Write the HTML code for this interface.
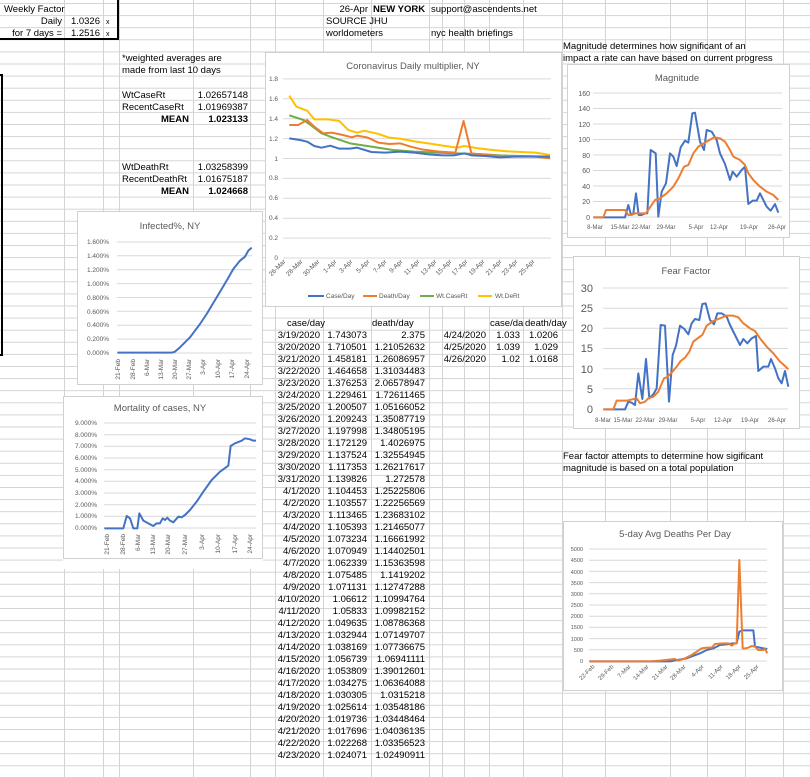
<!DOCTYPE html>
<html><head><meta charset="utf-8"><style>
body{margin:0;background:#fff}
svg{display:block;font-family:"Liberation Sans",sans-serif}
.c{font-size:9.5px;fill:#000}
.b{font-weight:bold}
.ax{font-size:6.5px;fill:#595959}
.ttl{font-size:9.5px;fill:#595959}
.g{stroke:#d9d9d9;stroke-width:1}
.s{fill:none;stroke-width:2;vector-effect:non-scaling-stroke;stroke-linejoin:round}
.bl{stroke:#4472c4}.or{stroke:#ed7d31}.gr{stroke:#70ad47}.ye{stroke:#ffc000}
.box{fill:#fff;stroke:#d0d0d0}
</style></head><body>
<svg width="810" height="777" viewBox="0 0 810 777">
<defs><pattern id="rows" x="0" y="3" width="810" height="12.1" patternUnits="userSpaceOnUse"><line x1="0" y1="0.5" x2="810" y2="0.5" stroke="#d4d4d4"/></pattern></defs>
<rect width="810" height="777" fill="url(#rows)"/>
<g stroke="#d4d4d4">
<line x1="64.5" y1="0" x2="64.5" y2="777"/><line x1="103.5" y1="0" x2="103.5" y2="777"/><line x1="119.5" y1="0" x2="119.5" y2="777"/><line x1="193.5" y1="0" x2="193.5" y2="777"/><line x1="250.5" y1="0" x2="250.5" y2="777"/><line x1="275.5" y1="0" x2="275.5" y2="777"/><line x1="323.5" y1="0" x2="323.5" y2="777"/><line x1="371.5" y1="0" x2="371.5" y2="777"/><line x1="429.5" y1="0" x2="429.5" y2="777"/><line x1="442.5" y1="0" x2="442.5" y2="777"/><line x1="464.5" y1="0" x2="464.5" y2="777"/><line x1="489.5" y1="0" x2="489.5" y2="777"/><line x1="523.5" y1="0" x2="523.5" y2="777"/><line x1="562.5" y1="0" x2="562.5" y2="777"/><line x1="605.5" y1="0" x2="605.5" y2="777"/><line x1="670.5" y1="0" x2="670.5" y2="777"/><line x1="707.5" y1="0" x2="707.5" y2="777"/><line x1="745.5" y1="0" x2="745.5" y2="777"/><line x1="783.5" y1="0" x2="783.5" y2="777"/>
</g>
<!-- thick borders -->
<g stroke="#000" stroke-width="2" fill="none">
<polyline points="0,39 118,39 118,0"/>
<polyline points="0,75 2,75 2,355 0,355"/>
</g>
<!-- top texts -->
<text class="c" x="4" y="12">Weekly Factor</text>
<text class="c" x="62" y="24" text-anchor="end">Daily</text>
<text class="c" x="100" y="24" text-anchor="end">1.0326</text><text class="c" x="106" y="24" style="font-size:7px">x</text>
<text class="c" x="62" y="36" text-anchor="end">for 7 days =</text>
<text class="c" x="100" y="36" text-anchor="end">1.2516</text><text class="c" x="106" y="36" style="font-size:7px">x</text>
<text class="c" x="368" y="12" text-anchor="end">26-Apr</text>
<text class="c b" x="373" y="12">NEW YORK</text>
<text class="c" x="431" y="12">support@ascendents.net</text>
<text class="c" x="326" y="24">SOURCE JHU</text>
<text class="c" x="326" y="36">worldometers</text>
<text class="c" x="431" y="36">nyc health briefings</text>
<text class="c" x="122" y="61">*weighted averages are</text>
<text class="c" x="122" y="73">made from last 10 days</text>
<text class="c" x="122" y="98">WtCaseRt</text><text class="c" x="248" y="98" text-anchor="end">1.02657148</text>
<text class="c" x="122" y="110">RecentCaseRt</text><text class="c" x="248" y="110" text-anchor="end">1.01969387</text>
<text class="c b" x="189" y="122" text-anchor="end">MEAN</text><text class="c b" x="248" y="122" text-anchor="end">1.023133</text>
<text class="c" x="122" y="170">WtDeathRt</text><text class="c" x="248" y="170" text-anchor="end">1.03258399</text>
<text class="c" x="122" y="182">RecentDeathRt</text><text class="c" x="248" y="182" text-anchor="end">1.01675187</text>
<text class="c b" x="189" y="194" text-anchor="end">MEAN</text><text class="c b" x="248" y="194" text-anchor="end">1.024668</text>
<text class="c" x="563" y="49">Magnitude determines how significant of an</text>
<text class="c" x="563" y="61">impact a rate can have based on current progress</text>
<text class="c" x="563" y="459">Fear factor attempts to determine how sigificant</text>
<text class="c" x="563" y="471">magnitude is based on a total population</text>

<!-- table -->
<rect x="276" y="317" width="286" height="12" fill="#fff" opacity="0"/>
<text class="c" x="287" y="326">case/day</text><text class="c" x="372" y="326">death/day</text>
<text class="c" x="490" y="326">case/da</text><text class="c" x="525" y="326">death/day</text>
<g class="c">
<text x="320" y="338" text-anchor="end">3/19/2020</text><text x="367" y="338" text-anchor="end">1.743073</text><text x="425" y="338" text-anchor="end">2.375</text>
<text x="320" y="350" text-anchor="end">3/20/2020</text><text x="367" y="350" text-anchor="end">1.710501</text><text x="425" y="350" text-anchor="end">1.21052632</text>
<text x="320" y="362" text-anchor="end">3/21/2020</text><text x="367" y="362" text-anchor="end">1.458181</text><text x="425" y="362" text-anchor="end">1.26086957</text>
<text x="320" y="374" text-anchor="end">3/22/2020</text><text x="367" y="374" text-anchor="end">1.464658</text><text x="425" y="374" text-anchor="end">1.31034483</text>
<text x="320" y="386" text-anchor="end">3/23/2020</text><text x="367" y="386" text-anchor="end">1.376253</text><text x="425" y="386" text-anchor="end">2.06578947</text>
<text x="320" y="398" text-anchor="end">3/24/2020</text><text x="367" y="398" text-anchor="end">1.229461</text><text x="425" y="398" text-anchor="end">1.72611465</text>
<text x="320" y="410" text-anchor="end">3/25/2020</text><text x="367" y="410" text-anchor="end">1.200507</text><text x="425" y="410" text-anchor="end">1.05166052</text>
<text x="320" y="422" text-anchor="end">3/26/2020</text><text x="367" y="422" text-anchor="end">1.209243</text><text x="425" y="422" text-anchor="end">1.35087719</text>
<text x="320" y="434" text-anchor="end">3/27/2020</text><text x="367" y="434" text-anchor="end">1.197998</text><text x="425" y="434" text-anchor="end">1.34805195</text>
<text x="320" y="446" text-anchor="end">3/28/2020</text><text x="367" y="446" text-anchor="end">1.172129</text><text x="425" y="446" text-anchor="end">1.4026975</text>
<text x="320" y="458" text-anchor="end">3/29/2020</text><text x="367" y="458" text-anchor="end">1.137524</text><text x="425" y="458" text-anchor="end">1.32554945</text>
<text x="320" y="470" text-anchor="end">3/30/2020</text><text x="367" y="470" text-anchor="end">1.117353</text><text x="425" y="470" text-anchor="end">1.26217617</text>
<text x="320" y="482" text-anchor="end">3/31/2020</text><text x="367" y="482" text-anchor="end">1.139826</text><text x="425" y="482" text-anchor="end">1.272578</text>
<text x="320" y="494" text-anchor="end">4/1/2020</text><text x="367" y="494" text-anchor="end">1.104453</text><text x="425" y="494" text-anchor="end">1.25225806</text>
<text x="320" y="506" text-anchor="end">4/2/2020</text><text x="367" y="506" text-anchor="end">1.103557</text><text x="425" y="506" text-anchor="end">1.22256569</text>
<text x="320" y="518" text-anchor="end">4/3/2020</text><text x="367" y="518" text-anchor="end">1.113465</text><text x="425" y="518" text-anchor="end">1.23683102</text>
<text x="320" y="530" text-anchor="end">4/4/2020</text><text x="367" y="530" text-anchor="end">1.105393</text><text x="425" y="530" text-anchor="end">1.21465077</text>
<text x="320" y="542" text-anchor="end">4/5/2020</text><text x="367" y="542" text-anchor="end">1.073234</text><text x="425" y="542" text-anchor="end">1.16661992</text>
<text x="320" y="554" text-anchor="end">4/6/2020</text><text x="367" y="554" text-anchor="end">1.070949</text><text x="425" y="554" text-anchor="end">1.14402501</text>
<text x="320" y="566" text-anchor="end">4/7/2020</text><text x="367" y="566" text-anchor="end">1.062339</text><text x="425" y="566" text-anchor="end">1.15363598</text>
<text x="320" y="578" text-anchor="end">4/8/2020</text><text x="367" y="578" text-anchor="end">1.075485</text><text x="425" y="578" text-anchor="end">1.1419202</text>
<text x="320" y="590" text-anchor="end">4/9/2020</text><text x="367" y="590" text-anchor="end">1.071131</text><text x="425" y="590" text-anchor="end">1.12747288</text>
<text x="320" y="602" text-anchor="end">4/10/2020</text><text x="367" y="602" text-anchor="end">1.06612</text><text x="425" y="602" text-anchor="end">1.10994764</text>
<text x="320" y="614" text-anchor="end">4/11/2020</text><text x="367" y="614" text-anchor="end">1.05833</text><text x="425" y="614" text-anchor="end">1.09982152</text>
<text x="320" y="626" text-anchor="end">4/12/2020</text><text x="367" y="626" text-anchor="end">1.049635</text><text x="425" y="626" text-anchor="end">1.08786368</text>
<text x="320" y="638" text-anchor="end">4/13/2020</text><text x="367" y="638" text-anchor="end">1.032944</text><text x="425" y="638" text-anchor="end">1.07149707</text>
<text x="320" y="650" text-anchor="end">4/14/2020</text><text x="367" y="650" text-anchor="end">1.038169</text><text x="425" y="650" text-anchor="end">1.07736675</text>
<text x="320" y="662" text-anchor="end">4/15/2020</text><text x="367" y="662" text-anchor="end">1.056739</text><text x="425" y="662" text-anchor="end">1.06941111</text>
<text x="320" y="674" text-anchor="end">4/16/2020</text><text x="367" y="674" text-anchor="end">1.053809</text><text x="425" y="674" text-anchor="end">1.39012601</text>
<text x="320" y="686" text-anchor="end">4/17/2020</text><text x="367" y="686" text-anchor="end">1.034275</text><text x="425" y="686" text-anchor="end">1.06364088</text>
<text x="320" y="698" text-anchor="end">4/18/2020</text><text x="367" y="698" text-anchor="end">1.030305</text><text x="425" y="698" text-anchor="end">1.0315218</text>
<text x="320" y="710" text-anchor="end">4/19/2020</text><text x="367" y="710" text-anchor="end">1.025614</text><text x="425" y="710" text-anchor="end">1.03548186</text>
<text x="320" y="722" text-anchor="end">4/20/2020</text><text x="367" y="722" text-anchor="end">1.019736</text><text x="425" y="722" text-anchor="end">1.03448464</text>
<text x="320" y="734" text-anchor="end">4/21/2020</text><text x="367" y="734" text-anchor="end">1.017696</text><text x="425" y="734" text-anchor="end">1.04036135</text>
<text x="320" y="746" text-anchor="end">4/22/2020</text><text x="367" y="746" text-anchor="end">1.022268</text><text x="425" y="746" text-anchor="end">1.03356523</text>
<text x="320" y="758" text-anchor="end">4/23/2020</text><text x="367" y="758" text-anchor="end">1.024071</text><text x="425" y="758" text-anchor="end">1.02490911</text>
<text x="486" y="338" text-anchor="end">4/24/2020</text><text x="520" y="338" text-anchor="end">1.033</text><text x="558" y="338" text-anchor="end">1.0206</text>
<text x="486" y="350" text-anchor="end">4/25/2020</text><text x="520" y="350" text-anchor="end">1.039</text><text x="558" y="350" text-anchor="end">1.029</text>
<text x="486" y="362" text-anchor="end">4/26/2020</text><text x="520" y="362" text-anchor="end">1.02</text><text x="558" y="362" text-anchor="end">1.0168</text>
</g>

<!-- Daily multiplier chart -->
<rect class="box" x="265.5" y="52.5" width="296" height="254"/>
<text class="ttl" x="413" y="69" text-anchor="middle">Coronavirus Daily multiplier, NY</text>
<g class="g">
<line x1="283" y1="258" x2="551" y2="258"/><line x1="283" y1="238.1" x2="551" y2="238.1"/><line x1="283" y1="218.2" x2="551" y2="218.2"/><line x1="283" y1="198.3" x2="551" y2="198.3"/><line x1="283" y1="178.4" x2="551" y2="178.4"/><line x1="283" y1="158.5" x2="551" y2="158.5"/><line x1="283" y1="138.6" x2="551" y2="138.6"/><line x1="283" y1="118.7" x2="551" y2="118.7"/><line x1="283" y1="98.8" x2="551" y2="98.8"/><line x1="283" y1="78.9" x2="551" y2="78.9"/>
</g>
<g class="ax" text-anchor="end">
<text x="278" y="260">0</text><text x="278" y="240">0.2</text><text x="278" y="220">0.4</text><text x="278" y="200">0.6</text><text x="278" y="180">0.8</text><text x="278" y="161">1</text><text x="278" y="141">1.2</text><text x="278" y="121">1.4</text><text x="278" y="101">1.6</text><text x="278" y="81">1.8</text>
</g>
<g class="ax" text-anchor="end">
<text transform="translate(286,262) rotate(-45)">26-Mar</text><text transform="translate(303,262) rotate(-45)">28-Mar</text><text transform="translate(320,262) rotate(-45)">30-Mar</text><text transform="translate(337,262) rotate(-45)">1-Apr</text><text transform="translate(353,262) rotate(-45)">3-Apr</text><text transform="translate(370,262) rotate(-45)">5-Apr</text><text transform="translate(387,262) rotate(-45)">7-Apr</text><text transform="translate(403,262) rotate(-45)">9-Apr</text><text transform="translate(420,262) rotate(-45)">11-Apr</text><text transform="translate(437,262) rotate(-45)">13-Apr</text><text transform="translate(452,262) rotate(-45)">15-Apr</text><text transform="translate(468,262) rotate(-45)">17-Apr</text><text transform="translate(485,262) rotate(-45)">19-Apr</text><text transform="translate(502,262) rotate(-45)">21-Apr</text><text transform="translate(518,262) rotate(-45)">23-Apr</text><text transform="translate(535,262) rotate(-45)">25-Apr</text>
</g>
<g class="ax">
<line x1="308" y1="296" x2="324" y2="296" stroke="#4472c4" stroke-width="2"/><text x="326" y="298">Case/Day</text>
<line x1="363" y1="296" x2="377" y2="296" stroke="#ed7d31" stroke-width="2"/><text x="379" y="298">Death/Day</text>
<line x1="420" y1="296" x2="434" y2="296" stroke="#70ad47" stroke-width="2"/><text x="436" y="298">Wt.CaseRt</text>
<line x1="478" y1="296" x2="492" y2="296" stroke="#ffc000" stroke-width="2"/><text x="495" y="298">Wt.DeRt</text>
</g>
<g transform="scale(0.35714,0.33333)">
<polyline class="s ye" points="810,287 830,320 860,332 880,358 920,358 950,363 975,390 1000,398 1020,392 1060,402 1090,413 1120,416 1160,424 1200,430 1240,437 1280,443 1300,438 1340,445 1380,450 1420,454 1460,456 1500,458 1540,465"/>
<polyline class="s gr" points="810,346 850,360 870,375 900,400 930,412 980,430 1040,440 1100,450 1160,455 1220,458 1280,460 1340,462 1400,466 1460,468 1540,470"/>
<polyline class="s or" points="810,375 835,375 860,360 880,380 905,400 930,398 960,405 985,412 1000,407 1030,413 1060,428 1090,432 1120,430 1150,440 1180,448 1230,455 1275,458 1298,363 1320,460 1360,465 1400,468 1440,468 1500,470 1540,475"/>
<polyline class="s bl" points="810,415 840,420 860,425 880,438 900,443 925,437 950,446 980,446 1000,443 1040,456 1080,458 1120,455 1160,458 1200,463 1240,466 1270,466 1300,460 1320,466 1360,468 1400,472 1440,470 1480,470 1540,470"/>
</g>

<!-- Infected chart -->
<rect class="box" x="77.5" y="211.5" width="185" height="173"/>
<text class="ttl" x="170" y="229" text-anchor="middle">Infected%, NY</text>
<g class="g">
<line x1="117" y1="353" x2="252" y2="353"/><line x1="117" y1="339.1" x2="252" y2="339.1"/><line x1="117" y1="325.2" x2="252" y2="325.2"/><line x1="117" y1="311.3" x2="252" y2="311.3"/><line x1="117" y1="297.5" x2="252" y2="297.5"/><line x1="117" y1="283.6" x2="252" y2="283.6"/><line x1="117" y1="269.7" x2="252" y2="269.7"/><line x1="117" y1="255.8" x2="252" y2="255.8"/><line x1="117" y1="242" x2="252" y2="242"/>
</g>
<g class="ax" text-anchor="end">
<text x="109" y="355">0.000%</text><text x="109" y="341">0.200%</text><text x="109" y="327">0.400%</text><text x="109" y="314">0.600%</text><text x="109" y="300">0.800%</text><text x="109" y="286">1.000%</text><text x="109" y="272">1.200%</text><text x="109" y="258">1.400%</text><text x="109" y="244">1.600%</text>
</g>
<g class="ax" text-anchor="end">
<text transform="translate(120,359) rotate(-90)">21-Feb</text><text transform="translate(135,359) rotate(-90)">28-Feb</text><text transform="translate(149,359) rotate(-90)">6-Mar</text><text transform="translate(163,359) rotate(-90)">13-Mar</text><text transform="translate(177,359) rotate(-90)">20-Mar</text><text transform="translate(191,359) rotate(-90)">27-Mar</text><text transform="translate(205,359) rotate(-90)">3-Apr</text><text transform="translate(220,359) rotate(-90)">10-Apr</text><text transform="translate(234,359) rotate(-90)">17-Apr</text><text transform="translate(249,359) rotate(-90)">24-Apr</text>
</g>
<g transform="translate(60,200) scale(0.33333)">
<polyline class="s bl" points="172,458 335,458 345,455 360,442 390,412 420,372 440,342 470,292 500,242 520,207 540,182 555,170 565,152 575,143"/>
</g>

<!-- Mortality chart -->
<rect class="box" x="63.5" y="396.5" width="199" height="162"/>
<text class="ttl" x="160" y="411" text-anchor="middle">Mortality of cases, NY</text>
<g class="g">
<line x1="104" y1="528" x2="256" y2="528"/><line x1="104" y1="516.3" x2="256" y2="516.3"/><line x1="104" y1="504.7" x2="256" y2="504.7"/><line x1="104" y1="493" x2="256" y2="493"/><line x1="104" y1="481.3" x2="256" y2="481.3"/><line x1="104" y1="469.7" x2="256" y2="469.7"/><line x1="104" y1="458" x2="256" y2="458"/><line x1="104" y1="446.3" x2="256" y2="446.3"/><line x1="104" y1="434.7" x2="256" y2="434.7"/><line x1="104" y1="423" x2="256" y2="423"/>
</g>
<g class="ax" text-anchor="end">
<text x="97" y="530">0.000%</text><text x="97" y="518">1.000%</text><text x="97" y="507">2.000%</text><text x="97" y="495">3.000%</text><text x="97" y="483">4.000%</text><text x="97" y="472">5.000%</text><text x="97" y="460">6.000%</text><text x="97" y="448">7.000%</text><text x="97" y="437">8.000%</text><text x="97" y="425">9.000%</text>
</g>
<g class="ax" text-anchor="end">
<text transform="translate(109,534) rotate(-90)">21-Feb</text><text transform="translate(125,534) rotate(-90)">28-Feb</text><text transform="translate(140,534) rotate(-90)">6-Mar</text><text transform="translate(155,534) rotate(-90)">13-Mar</text><text transform="translate(170,534) rotate(-90)">20-Mar</text><text transform="translate(187,534) rotate(-90)">27-Mar</text><text transform="translate(204,534) rotate(-90)">3-Apr</text><text transform="translate(220,534) rotate(-90)">10-Apr</text><text transform="translate(237,534) rotate(-90)">17-Apr</text><text transform="translate(252,534) rotate(-90)">24-Apr</text>
</g>
<rect x="63" y="559" width="200" height="10" fill="#fff"/>
<g transform="translate(60,200) scale(0.33333)">
<polyline class="s bl" points="133,985 190,985 200,948 210,955 220,985 232,985 238,940 250,962 265,970 280,978 290,970 300,970 308,955 315,960 322,953 330,962 340,967 355,950 365,952 375,945 390,930 410,905 430,875 455,840 480,815 505,797 512,738 525,730 545,722 555,715 570,718 580,722 588,722"/>
</g>

<!-- Magnitude chart -->
<rect class="box" x="567.5" y="64.5" width="222" height="173"/>
<text class="ttl" x="677" y="81" text-anchor="middle">Magnitude</text>
<g class="g">
<line x1="593" y1="217" x2="782" y2="217"/><line x1="593" y1="201.5" x2="782" y2="201.5"/><line x1="593" y1="186" x2="782" y2="186"/><line x1="593" y1="170.5" x2="782" y2="170.5"/><line x1="593" y1="155" x2="782" y2="155"/><line x1="593" y1="139.5" x2="782" y2="139.5"/><line x1="593" y1="124" x2="782" y2="124"/><line x1="593" y1="108.5" x2="782" y2="108.5"/><line x1="593" y1="93" x2="782" y2="93"/>
</g>
<g class="ax" text-anchor="end" style="font-size:7px">
<text x="590" y="220">0</text><text x="590" y="204">20</text><text x="590" y="189">40</text><text x="590" y="173">60</text><text x="590" y="158">80</text><text x="590" y="142">100</text><text x="590" y="127">120</text><text x="590" y="111">140</text><text x="590" y="96">160</text>
</g>
<g class="ax" text-anchor="middle" style="font-size:6px">
<text x="595" y="229">8-Mar</text><text x="620" y="229">15-Mar</text><text x="641" y="229">22-Mar</text><text x="666" y="229">29-Mar</text><text x="696" y="229">5-Apr</text><text x="719" y="229">12-Apr</text><text x="749" y="229">19-Apr</text><text x="777" y="229">26-Apr</text>
</g>
<g transform="translate(560,40) scale(0.33333)">
<polyline class="s bl" points="100,532 195,532 205,495 213,525 220,520 228,460 236,525 245,525 255,520 262,520 272,330 287,340 295,530 305,455 318,430 330,340 340,350 350,378 362,322 375,302 385,308 397,220 405,218 420,305 432,330 440,270 455,275 470,300 480,340 495,372 510,420 518,395 530,410 545,390 555,380 565,492 578,482 590,482 600,460 610,480 620,500 632,512 645,492 655,518"/>
<polyline class="s or" points="100,532 130,532 138,510 195,510 205,525 215,525 225,520 258,520 285,480 300,475 320,460 340,440 355,415 372,380 385,375 400,340 415,320 440,305 462,292 480,295 495,305 510,330 520,350 540,360 555,375 565,400 580,420 600,440 620,455 640,465 655,480"/>
</g>

<!-- Fear factor chart -->
<rect class="box" x="573.5" y="256.5" width="226" height="172"/>
<text class="ttl" x="686" y="274" text-anchor="middle">Fear Factor</text>
<g class="g">
<line x1="603" y1="409" x2="788" y2="409"/><line x1="603" y1="388.8" x2="788" y2="388.8"/><line x1="603" y1="368.7" x2="788" y2="368.7"/><line x1="603" y1="348.5" x2="788" y2="348.5"/><line x1="603" y1="328.3" x2="788" y2="328.3"/><line x1="603" y1="308.2" x2="788" y2="308.2"/><line x1="603" y1="288" x2="788" y2="288"/>
</g>
<g class="ax" text-anchor="end" style="font-size:11px">
<text x="593" y="413">0</text><text x="593" y="393">5</text><text x="593" y="373">10</text><text x="593" y="352">15</text><text x="593" y="332">20</text><text x="593" y="312">25</text><text x="593" y="292">30</text>
</g>
<g class="ax" text-anchor="middle" style="font-size:6px">
<text x="603" y="422">8-Mar</text><text x="623" y="422">15-Mar</text><text x="645" y="422">22-Mar</text><text x="668" y="422">29-Mar</text><text x="698" y="422">5-Apr</text><text x="723" y="422">12-Apr</text><text x="750" y="422">19-Apr</text><text x="777" y="422">26-Apr</text>
</g>
<g transform="translate(560,255) scale(0.33333)">
<polyline class="s bl" points="130,463 195,463 205,440 215,443 225,450 235,355 247,432 258,312 268,430 280,418 290,400 302,210 315,212 327,440 338,300 348,272 360,212 373,222 385,238 395,205 405,192 418,195 427,147 437,145 450,195 462,208 472,175 485,175 500,185 510,210 525,240 540,270 550,252 562,265 575,250 588,243 595,348 610,335 625,335 633,312 645,340 655,370 665,385 675,348 685,395"/>
<polyline class="s or" points="130,463 160,463 170,437 200,437 230,430 240,445 255,440 265,430 280,425 295,410 312,370 320,367 335,353 350,335 362,318 375,308 388,290 400,260 415,248 427,240 440,212 460,198 480,190 500,182 520,182 535,187 550,205 570,220 585,228 600,250 620,275 640,295 660,320 675,333 685,343"/>
</g>

<!-- 5-day chart -->
<rect class="box" x="563.5" y="521.5" width="219" height="169"/>
<text class="ttl" x="675" y="537" text-anchor="middle">5-day Avg Deaths Per Day</text>
<g class="g">
<line x1="589" y1="661" x2="767" y2="661"/><line x1="589" y1="649.8" x2="767" y2="649.8"/><line x1="589" y1="638.6" x2="767" y2="638.6"/><line x1="589" y1="627.4" x2="767" y2="627.4"/><line x1="589" y1="616.2" x2="767" y2="616.2"/><line x1="589" y1="605" x2="767" y2="605"/><line x1="589" y1="593.8" x2="767" y2="593.8"/><line x1="589" y1="582.6" x2="767" y2="582.6"/><line x1="589" y1="571.4" x2="767" y2="571.4"/><line x1="589" y1="560.2" x2="767" y2="560.2"/><line x1="589" y1="549" x2="767" y2="549"/>
</g>
<g class="ax" text-anchor="end" style="font-size:5.5px">
<text x="583" y="663">0</text><text x="583" y="652">500</text><text x="583" y="641">1000</text><text x="583" y="629">1500</text><text x="583" y="618">2000</text><text x="583" y="607">2500</text><text x="583" y="596">3000</text><text x="583" y="585">3500</text><text x="583" y="574">4000</text><text x="583" y="562">4500</text><text x="583" y="551">5000</text>
</g>
<g class="ax" text-anchor="end" style="font-size:6px">
<text transform="translate(595,667) rotate(-45)">22-Feb</text><text transform="translate(614,667) rotate(-45)">29-Feb</text><text transform="translate(631,667) rotate(-45)">7-Mar</text><text transform="translate(649,667) rotate(-45)">14-Mar</text><text transform="translate(668,667) rotate(-45)">21-Mar</text><text transform="translate(686,667) rotate(-45)">28-Mar</text><text transform="translate(704,667) rotate(-45)">4-Apr</text><text transform="translate(723,667) rotate(-45)">11-Apr</text><text transform="translate(741,667) rotate(-45)">18-Apr</text><text transform="translate(759,667) rotate(-45)">25-Apr</text>
</g>
<g transform="translate(560,515) scale(0.33333)">
<polyline class="s bl" points="88,439 330,439 380,430 420,415 440,405 460,400 480,390 500,388 520,385 530,385 538,350 548,346 580,346 585,395 610,400 622,402"/>
<polyline class="s or" points="88,439 270,439 300,437 345,432 355,437 375,430 395,420 410,410 425,400 440,398 455,398 465,387 490,385 505,385 515,392 525,385 530,385 538,135 548,400 556,400 565,398 575,393 585,395 595,405 610,405 615,402 622,415"/>
</g>
</svg>
</body></html>
